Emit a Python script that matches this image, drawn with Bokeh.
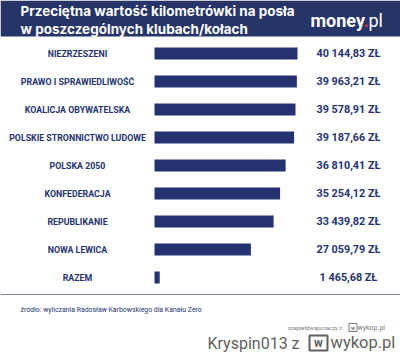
from bokeh.plotting import figure
from bokeh.models import Range1d, ColumnDataSource
from bokeh.core.properties import value
from bokeh.embed import file_html
from bokeh.resources import INLINE

# ---- data ----
categories = ["NIEZRZESZENI", "PRAWO I SPRAWIEDLIWOŚĆ", "KOALICJA OBYWATELSKA",
              "POLSKIE STRONNICTWO LUDOWE", "POLSKA 2050", "KONFEDERACJA",
              "REPUBLIKANIE", "NOWA LEWICA", "RAZEM"]
values = [40144.83, 39963.21, 39578.91, 39187.66, 36810.41, 35254.12,
          33439.82, 27059.79, 1465.68]
value_labels = ["40 144,83 ZŁ", "39 963,21 ZŁ", "39 578,91 ZŁ", "39 187,66 ZŁ",
                "36 810,41 ZŁ", "35 254,12 ZŁ", "33 439,82 ZŁ", "27 059,79 ZŁ",
                "1 465,68 ZŁ"]
title_lines = ["Przeciętna wartość kilometrówki na posła",
               "w poszczególnych klubach/kołach"]
source_text = "źródło: wyliczania Radosław Karbowskiego dla Kanału Zero"

# ---- layout (pixels) ----
W, H = 400, 352
X0 = 154.0
XS = 143.0 / 40144.83      # px per unit
Y0, PITCH = 53.0, 28.0

def px_x(px):
    return (px - X0) / XS

def px_y(py):
    return (py - Y0) / PITCH

NAVY = "#243370"
HEAD = "#263467"
FONT = value("Roboto")

p = figure(width=W, height=H, output_backend="svg", toolbar_location=None,
           x_range=Range1d(px_x(0), px_x(W)), y_range=Range1d(px_y(H), px_y(0)),
           min_border=0, x_axis_location=None, y_axis_location=None)
p.grid.visible = False
p.outline_line_color = None
p.background_fill_color = "white"
p.border_fill_color = "white"


def txt(px, py, s, size, color, bold=False, align="left", font="Roboto"):
    p.text(x=[px_x(px)], y=[px_y(py)], text=[s], text_align=align,
           text_baseline="middle", text_font=value(font),
           text_font_style="bold" if bold else "normal",
           text_font_size=f"{size}px", text_color=color)


# header band
p.quad(left=[px_x(0)], right=[px_x(W)], top=[px_y(0)], bottom=[px_y(36)],
       fill_color=HEAD, line_color=None)

idx = list(range(len(categories)))
src = ColumnDataSource(dict(y=idx, v=values, cat=categories, lab=value_labels,
                            zero=[0] * len(idx)))

p.hbar(y="y", left=0, right="v", height=12 / PITCH, source=src,
       fill_color=NAVY, line_color=None)

p.text(x="zero", y="y", text="cat", source=src, x_offset=-77,
       text_align="center", text_baseline="middle", text_font=FONT,
       text_font_style="bold", text_font_size="8.8px", text_color=NAVY)
p.text(x="zero", y="y", text="lab", source=src, x_offset=194,
       text_align="center", text_baseline="middle", text_font=FONT,
       text_font_style="bold", text_font_size="10.8px", text_color=NAVY)

# title
txt(20, 10.5, title_lines[0], 13.5, "white", bold=True, font="Inter")
txt(20, 28.5, title_lines[1], 13.5, "white", bold=True, font="Inter")

# money.pl logo
txt(310, 19.5, "money", 18, "white", bold=True)
txt(363, 19.5, ".", 18, "#e0303a", bold=True)
txt(368, 19.5, "pl", 18, "white")

# separator
p.line(x=[px_x(0), px_x(W)], y=[px_y(294), px_y(294)], line_color="#7c8299",
       line_width=1)

# source
txt(20, 309.5, source_text, 6.9, NAVY)

# watermarks
LG = "#7a7a7a"
txt(343, 327, "szejsetdwajsciaczy  z", 5.8, LG, align="right")
p.rect(x=[px_x(352.5)], y=[px_y(327)], width=8 / XS, height=8 / PITCH,
       fill_color=None, line_color=LG, line_width=1)
txt(352.5, 327, "w", 5.5, LG, bold=True, align="center")
txt(357, 327, "wykop.pl", 7, LG)

GRAY = "#5f5f5f"
txt(303, 342.5, "Kryspin013  z", 16, GRAY, align="right")
p.rect(x=[px_x(318)], y=[px_y(342.5)], width=18 / XS, height=15 / PITCH,
       fill_color=None, line_color=GRAY, line_width=2)
txt(318, 342.5, "w", 12, GRAY, bold=True, align="center")
txt(330, 342, "wykop.pl", 16.5, GRAY)

open("out.html", "w").write(file_html(p, INLINE))
